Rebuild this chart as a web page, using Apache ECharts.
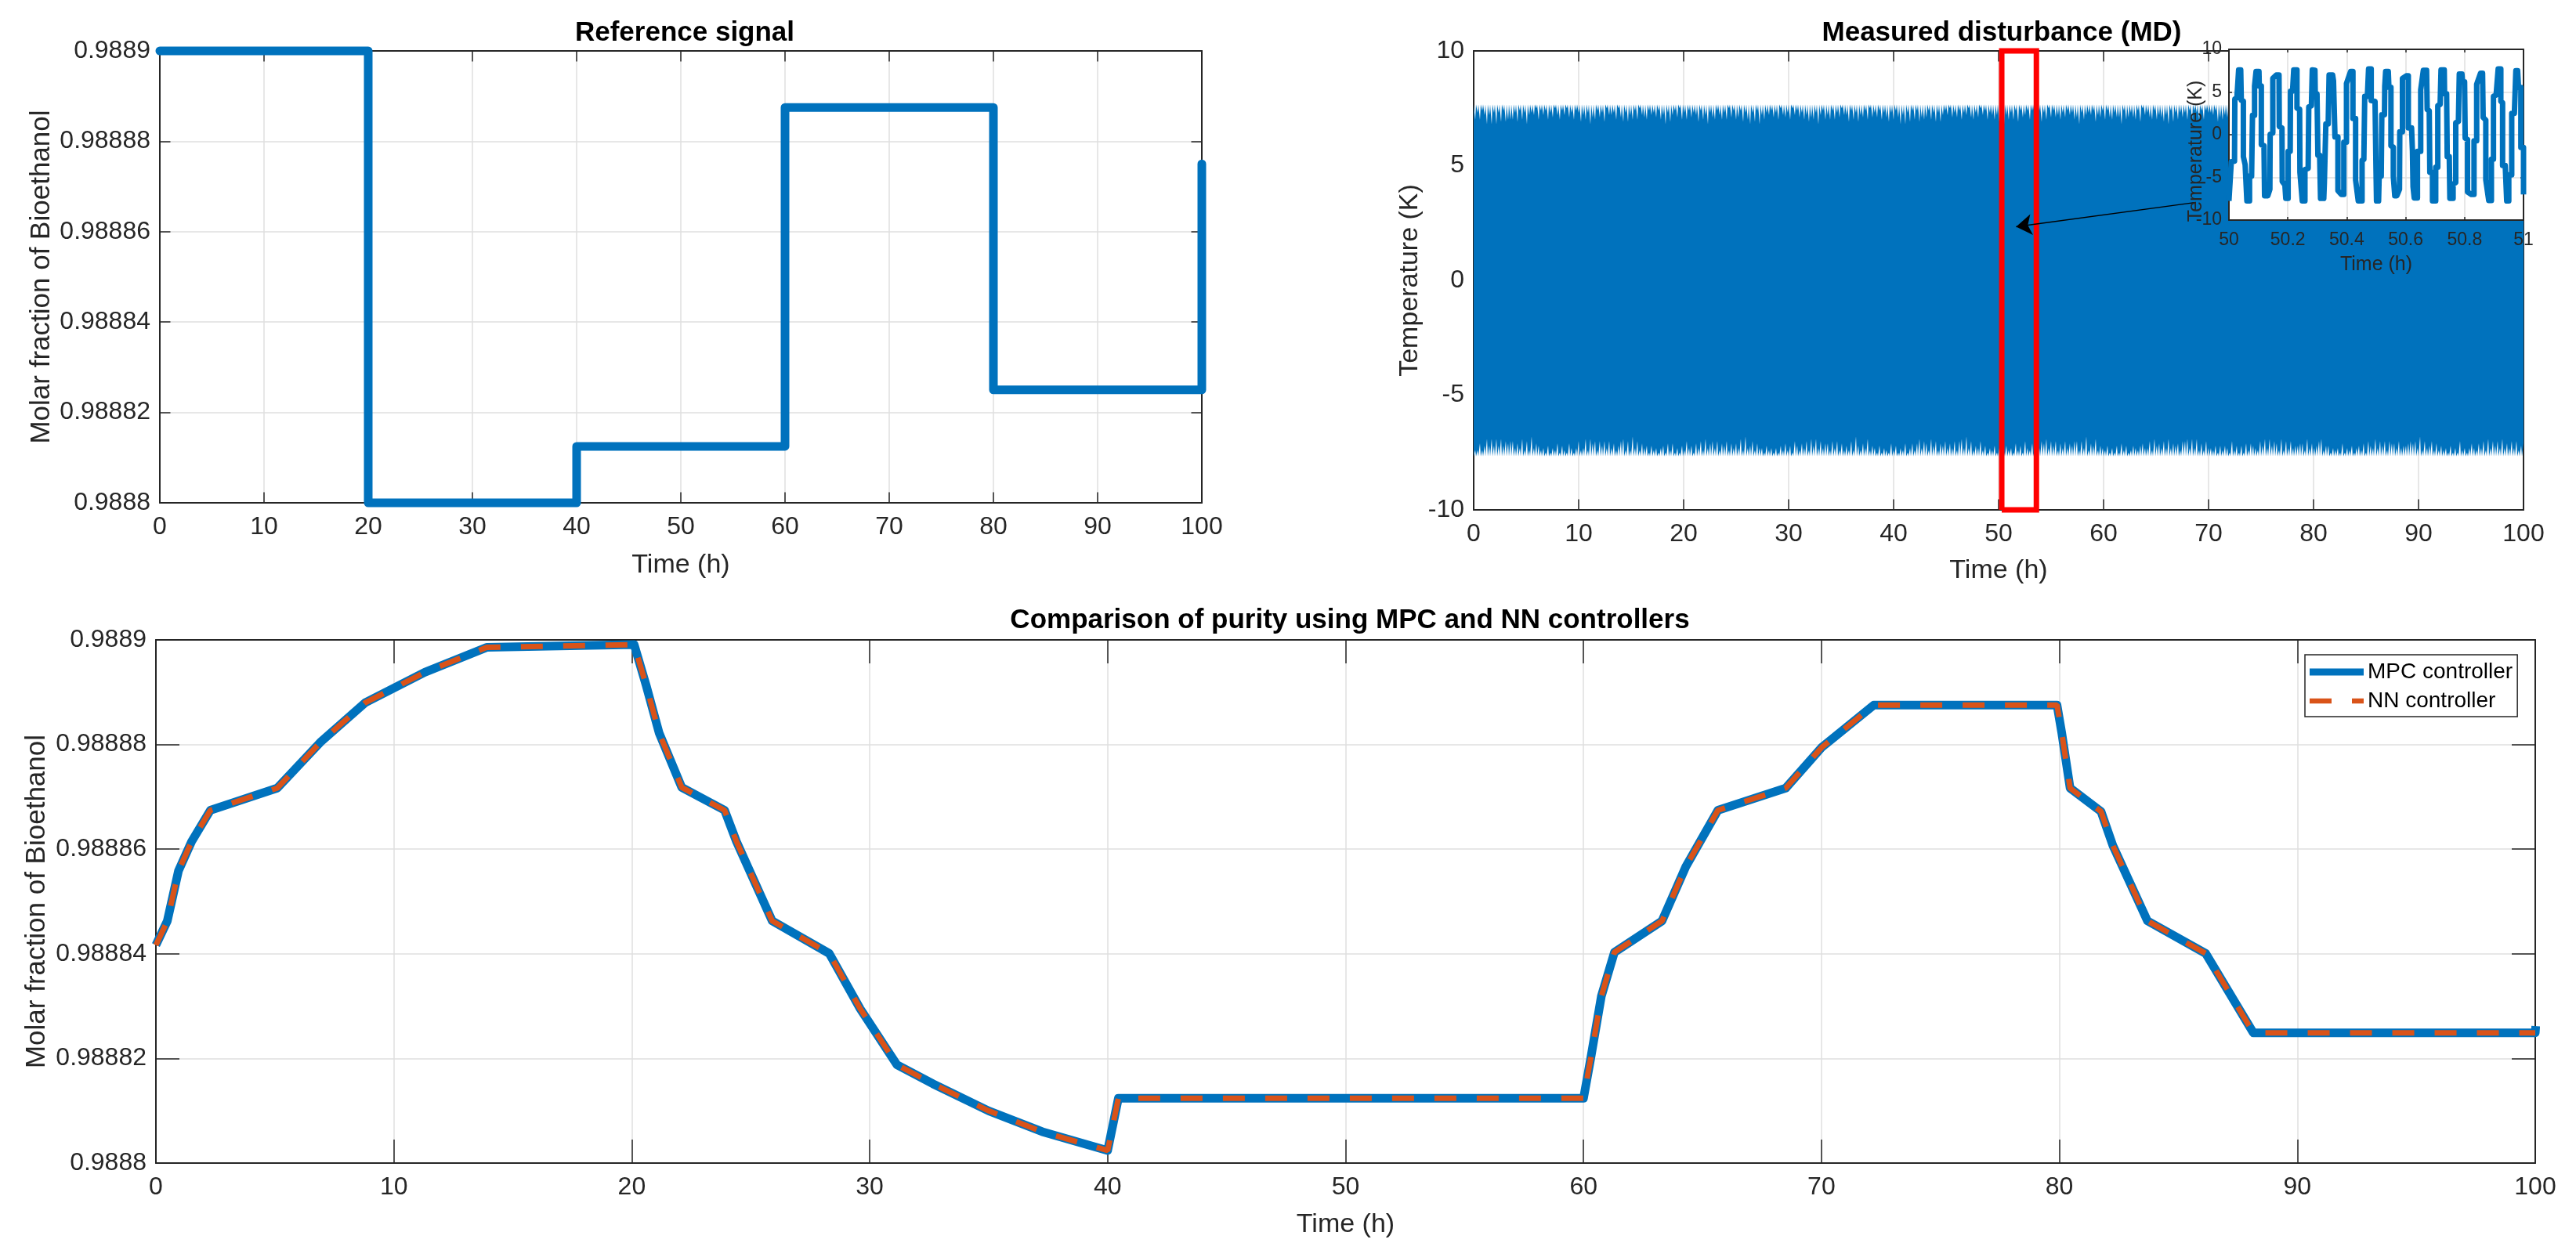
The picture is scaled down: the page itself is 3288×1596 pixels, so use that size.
<!DOCTYPE html>
<html>
<head>
<meta charset="utf-8">
<title>Bioethanol purity</title>
<script src="https://cdn.jsdelivr.net/npm/echarts@6/dist/echarts.min.js"></script>
<style>
  html, body { margin: 0; padding: 0; background: #fff; }
  #main { width: 3288px; height: 1596px; }
</style>
</head>
<body>
<div id="main"></div>
<script>
// reference signal, top left
let refTime = [0, 20, 20, 40, 40, 60, 60, 80, 80, 100, 100];
let refPurity = [0.9889, 0.9889, 0.9888, 0.9888, 0.9888125, 0.9888125, 0.9888875, 0.9888875, 0.988825, 0.988825, 0.988875];

// comparison plot, bottom
let purityTime = [0, 0.48, 0.95, 1.5, 2.29, 5.1, 6.95, 8.8, 11.3, 13.9, 16.5, 20.1, 20.6, 21.15, 22.1, 23.9, 24.4, 25.9, 28.3, 29.6, 31.15, 32.65, 35, 37.25, 40, 40.45, 60, 60.3, 60.75, 61.3, 63.3, 64.3, 65.65, 68.5, 70, 72.2, 79.9, 80.1, 80.45, 81.75, 82.25, 83.7, 86.15, 88.15, 100, 100.02];
let mpcPurity = [0.98884166, 0.98884629, 0.98885587, 0.98886145, 0.98886744, 0.98887167, 0.9888806, 0.988888, 0.98889380, 0.98889856, 0.9888988, 0.9888991, 0.98889138, 0.9888822, 0.9888718, 0.98886744, 0.98886145, 0.98884629, 0.98884006, 0.9888295, 0.98881876, 0.98881516, 0.98880998, 0.98880599, 0.9888024, 0.98881237, 0.98881237, 0.98881995, 0.9888319, 0.9888403, 0.98884629, 0.98885667, 0.98886744, 0.98887167, 0.9888794, 0.98888755, 0.98888755, 0.9888822, 0.98887167, 0.9888672, 0.98886066, 0.98884629, 0.98884006, 0.9888249, 0.9888249, 0.98882617];
let nnPurity = [0.98884166, 0.98884629, 0.98885587, 0.98886145, 0.98886744, 0.98887167, 0.9888806, 0.988888, 0.98889380, 0.98889856, 0.9888988, 0.9888991, 0.98889138, 0.9888822, 0.9888718, 0.98886744, 0.98886145, 0.98884629, 0.98884006, 0.9888295, 0.98881876, 0.98881516, 0.98880998, 0.98880599, 0.9888024, 0.98881237, 0.98881237, 0.98881995, 0.9888319, 0.9888403, 0.98884629, 0.98885667, 0.98886744, 0.98887167, 0.9888794, 0.98888755, 0.98888755, 0.9888822, 0.98887167, 0.9888672, 0.98886066, 0.98884629, 0.98884006, 0.9888249, 0.9888249];

// measured disturbance: the trace is so dense that only its two fringes can be read
let mdStep = 3 / 13.4;  // hours between slivers on the fringe
let mdUpperPeak = 7.67;
let mdLowerPeak = -7.67;
let mdUpperNotch = [
  7.0,7.3,7.0,7.4,7.2,6.8,7.2,6.8,7.3,6.8,7.3,6.9,7.4,6.9,7.0,7.0,
  7.0,7.3,6.9,7.4,7.0,7.3,6.8,7.2,7.3,7.2,7.5,7.0,7.4,7.2,7.4,7.0,
  7.3,7.1,7.5,7.2,7.0,7.4,7.2,7.5,7.1,7.3,7.0,7.4,7.3,6.9,7.2,7.0,
  7.3,6.8,7.1,7.0,7.4,7.1,7.3,6.9,7.5,7.2,7.2,7.3,7.0,7.5,7.1,6.9,
  7.3,6.9,7.2,7.0,7.4,7.0,7.5,7.2,7.1,7.0,7.4,7.2,7.3,7.1,7.4,7.0,
  7.2,6.8,7.3,6.9,7.2,7.4,7.1,7.5,7.0,7.3,7.0,7.4,7.1,7.3,7.2,6.9,
  7.4,7.0,7.2,6.8,7.3,7.1,7.0,7.4,7.2,7.0,7.3,7.0,7.5,7.1,7.4,7.0,
  7.1,7.4,6.9,7.3,7.0,6.8,7.3,6.9,7.4,6.8,7.2,7.0,7.3,7.2,7.4,7.1,
  7.3,7.0,7.5,7.2,7.1,7.3,7.0,7.5,7.2,7.4,7.1,7.3,7.0,7.2,6.9,7.1,
  7.0,7.3,6.8,7.2,7.4,7.0,7.2,7.0,7.4,7.0,7.3,7.1,7.5,7.2,7.2,6.9,
  7.4,7.0,7.3,6.9,7.2,7.1,7.4,7.0,7.5,7.1,7.3,7.1,7.4,7.0,7.3,7.1,
  6.9,7.3,7.0,7.4,7.1,6.8,7.2,6.8,7.3,6.9,7.4,7.0,7.4,6.9,7.1,7.0,
  7.1,7.4,7.0,7.3,6.9,7.3,6.9,7.2,7.4,7.2,7.5,7.1,7.3,7.1,7.4,7.0,
  7.3,7.2,7.5,7.1,7.0,7.3,7.1,7.5,7.2,7.4,7.0,7.3,7.2,7.0,7.2,6.9,
  7.2,6.8,7.2,7.0,7.3,7.0,7.4,6.9,7.4,7.1,7.2,7.4,7.0,7.4,7.2,6.9,
  7.4,6.9,7.3,7.0,7.5,7.1,7.4,7.1,7.2,7.0,7.3,7.1,7.4,7.2,7.3,7.0,
  7.1,6.8,7.3,7.0,7.2,7.3,7.2,7.4,6.9,7.2,7.1,7.4,7.0,7.4,7.1,7.0,
  7.3,7.1,7.1,6.8,7.4,7.0,7.1,7.3,7.1,7.0,7.4,6.9,7.5,7.2,7.3,7.1,
  7.0,7.4,7.0,7.2,7.1,6.9,7.2,6.8,7.4,6.9,7.3,7.0,7.3,7.1,7.3,7.0,
  7.4,7.0,7.4,7.3,7.0,7.4,7.0,7.4,7.3,7.3,7.2,7.4,6.9,7.1,7.0,7.2,
  7.1,7.2,6.9,7.3,7.4,7.1,7.3,6.9,7.3,7.1,7.4,7.0,7.5,7.3,7.1,7.0,
  7.3,7.0,7.2,6.8,7.3,7.2,7.5,7.1,7.0,7.1,7.3,7.2,7.4,7.0,7.4,7.1,
  7.0,7.4,6.9,7.2,7.1,6.8,7.3,6.9,7.4,6.9,7.1,7.1,7.3,7.2,7.3,7.0,
  7.2,7.3,7.0,7.4,7.0,7.2,6.9,7.3,7.2,7.3,7.4,7.0,7.3,7.1,7.5,6.9,
  7.4,7.2,7.4,7.1,7.1,7.4,7.1,7.4,7.0,7.4,7.1,7.2,7.0,7.3,6.9,7.2,
  7.0,7.2,6.8,7.3,7.3,6.9,7.3,7.1,7.3,7.0,7.4,7.0,7.4,7.2,7.1,7.0,
  7.3,6.9,7.3,7.0,7.4,7.1,7.3,7.2,7.1,7.1,7.3,7.0,7.5,7.0,7.4,7.1,
  7.1,6.8,7.2,6.9,7.3,7.2,7.1,7.4,7.0,7.2,7.0,7.3,7.2,7.4,7.1,7.0
];
let mdLowerNotch = [
  -7.4,-7.4,-7.1,-7.4,-7.2,-6.9,-7.2,-6.9,-7.2,-6.9,-7.2,-6.9,-7.2,-7.0,-7.1,-7.0,
  -7.0,-7.3,-7.1,-7.3,-6.9,-7.4,-7.0,-7.4,-6.8,-7.3,-7.1,-7.2,-7.4,-7.3,-7.5,-7.2,
  -7.5,-7.3,-7.4,-7.1,-7.5,-7.2,-7.4,-7.5,-7.1,-7.3,-7.5,-7.3,-7.0,-7.4,-7.3,-6.9,
  -7.4,-6.9,-7.1,-7.0,-7.4,-7.0,-7.2,-7.0,-7.3,-7.0,-7.3,-7.1,-7.4,-7.2,-7.0,-6.9,
  -7.4,-7.0,-7.4,-6.8,-7.3,-7.0,-7.4,-7.1,-7.3,-7.2,-7.5,-7.2,-7.4,-7.3,-7.5,-7.3,
  -7.2,-7.5,-7.1,-7.4,-7.1,-7.5,-7.3,-7.5,-7.2,-7.4,-7.0,-7.3,-7.2,-7.5,-7.1,-7.3,
  -7.0,-7.4,-6.9,-7.3,-7.1,-7.0,-7.3,-7.0,-7.4,-7.1,-7.2,-7.0,-7.4,-7.1,-7.3,-7.1,
  -7.3,-6.9,-7.4,-6.8,-7.3,-7.2,-7.0,-7.4,-7.1,-7.3,-7.3,-7.5,-7.2,-7.4,-7.3,-7.5,
  -7.3,-7.5,-7.2,-7.4,-7.1,-7.4,-7.2,-7.5,-7.0,-7.2,-7.4,-7.1,-7.3,-7.0,-7.4,-6.9,
  -7.2,-6.9,-7.3,-7.0,-7.3,-7.1,-7.1,-7.4,-7.0,-7.3,-7.0,-7.4,-7.1,-7.4,-7.2,-7.4,
  -7.0,-7.4,-6.8,-7.2,-7.4,-7.1,-7.3,-6.9,-7.4,-7.2,-7.3,-7.5,-7.2,-7.5,-7.3,-7.4,
  -7.5,-7.1,-7.4,-7.2,-7.5,-7.3,-7.4,-7.1,-7.5,-7.3,-7.1,-7.4,-7.1,-6.9,-7.3,-7.0,
  -7.1,-7.4,-6.9,-7.2,-7.0,-7.4,-7.1,-7.2,-7.0,-7.3,-7.1,-7.3,-7.0,-7.4,-7.0,-6.9,
  -7.3,-6.8,-7.3,-7.0,-7.4,-7.2,-7.3,-7.0,-7.4,-7.2,-7.5,-7.3,-7.4,-7.2,-7.5,-7.3,
  -7.1,-7.5,-7.2,-7.4,-7.3,-7.5,-7.1,-7.4,-7.2,-7.5,-7.0,-7.3,-7.4,-7.1,-7.4,-6.9,
  -7.3,-7.0,-7.1,-6.9,-7.3,-7.0,-7.2,-7.0,-7.4,-7.1,-7.3,-7.0,-7.3,-7.1,-7.2,-7.0,
  -7.0,-7.4,-7.0,-7.3,-6.8,-7.4,-7.1,-7.2,-6.9,-7.4,-7.2,-7.3,-7.4,-7.2,-7.5,-7.3,
  -7.5,-7.2,-7.5,-7.1,-7.4,-7.2,-7.5,-7.4,-7.2,-7.3,-7.4,-7.2,-7.1,-7.3,-7.3,-7.0,
  -7.4,-6.9,-7.2,-7.1,-7.3,-7.0,-7.3,-6.9,-7.3,-7.1,-7.2,-7.1,-7.4,-7.0,-7.0,-6.9,
  -7.3,-6.9,-7.3,-6.9,-7.4,-7.1,-7.4,-7.0,-7.3,-7.3,-7.4,-7.2,-7.5,-7.2,-7.4,-7.2,
  -7.3,-7.5,-7.0,-7.4,-7.2,-7.5,-7.2,-7.5,-7.1,-7.4,-7.1,-7.2,-7.3,-7.4,-7.0,-7.2,
  -6.9,-7.3,-6.9,-7.2,-7.0,-7.1,-7.4,-6.9,-7.4,-7.0,-7.3,-7.0,-7.3,-7.2,-7.2,-7.1,
  -7.1,-7.4,-6.9,-7.3,-7.1,-7.3,-7.2,-7.0,-6.9,-7.4,-7.2,-7.2,-7.5,-7.3,-7.4,-7.3,
  -7.5,-7.1,-7.5,-7.3,-7.4,-7.2,-7.5,-7.3,-7.2,-7.4,-7.1,-7.5,-7.0,-7.2,-7.3,-6.9,
  -7.3,-7.0,-7.2,-7.0,-7.4,-7.0,-7.1,-7.1,-7.3,-7.0,-7.3,-7.2,-7.2,-7.1,-7.0,-7.1,
  -7.0,-7.3,-6.8,-7.4,-7.0,-7.3,-7.2,-7.0,-7.4,-7.1,-7.4,-7.2,-7.4,-7.3,-7.5,-7.2,
  -7.5,-7.3,-7.5,-7.0,-7.4,-7.3,-7.5,-7.3,-7.1,-7.3,-7.4,-7.1,-7.3,-7.0,-7.4,-6.9,
  -7.3,-7.0,-7.2,-7.0,-7.3,-6.9,-7.3,-7.1,-7.3,-7.0,-7.3,-7.0,-7.4,-7.2,-7.1,-7.0
];

// the red box around the zoomed part and the arrow that goes to the inset
let boxTime = [50.3, 50.3, 53.6, 53.6, 50.3];
let boxTemp = [-10, 10, 10, -10, -10];
let arrowFrom = [68.8, 3.4];
let arrowTo = [51.67, 2.34];

// inset, one hour of the disturbance: [time, temperature]
let insetSamples = [
  [50.000,-7.76],[50.008,-3.17],[50.019,-3.1],[50.020,4.18],[50.027,4.3],[50.033,7.6],[50.040,7.6],[50.042,4.03],[50.049,3.94],[50.049,-2.56],[50.055,-3.5],[50.059,-3.5],[50.061,-7.76],[50.070,-7.76],[50.070,-4.85],[50.077,-4.85],
  [50.080,2.28],[50.087,2.28],[50.087,5.7],[50.092,7.4],[50.102,7.4],[50.103,5.7],[50.110,5.7],[50.110,-1.18],[50.119,-1.27],[50.121,-7.15],[50.132,-7.15],[50.139,-6.4],[50.140,0.05],[50.149,0.2],[50.149,6.6],[50.161,7.0],
  [50.170,7.0],[50.171,0.96],[50.180,0.8],[50.181,-5.47],[50.190,-5.9],[50.193,-7.46],[50.201,-7.46],[50.201,-1.95],[50.208,-1.95],[50.209,5.1],[50.216,5.1],[50.220,7.6],[50.231,7.6],[50.231,3.1],[50.240,3.0],[50.241,-4.4],
  [50.249,-7.76],[50.258,-7.76],[50.258,-4.09],[50.269,-3.94],[50.271,3.26],[50.280,3.4],[50.283,7.6],[50.292,7.55],[50.293,4.85],[50.299,4.8],[50.302,-2.4],[50.308,-2.4],[50.311,-7.46],[50.322,-7.46],[50.324,-5.6],[50.329,1.27],
  [50.337,1.27],[50.340,7.0],[50.352,7.0],[50.355,6.3],[50.360,-0.26],[50.370,-0.26],[50.370,-6.54],[50.382,-7.0],[50.390,-7.0],[50.390,-0.87],[50.399,-0.87],[50.399,6.0],[50.413,7.4],[50.421,7.4],[50.421,1.9],[50.430,1.9],
  [50.430,-5.3],[50.439,-7.76],[50.452,-7.76],[50.452,-3.0],[50.458,-2.9],[50.461,4.5],[50.470,4.5],[50.474,7.7],[50.483,7.7],[50.483,4.0],[50.496,3.9],[50.499,-3.5],[50.501,-7.76],[50.508,-7.76],[50.510,-4.85],[50.517,-4.85],
  [50.519,2.34],[50.528,2.34],[50.529,5.7],[50.532,7.4],[50.541,7.4],[50.543,5.56],[50.550,5.56],[50.550,-1.3],[50.558,-1.45],[50.558,-4.85],[50.563,-7.15],[50.570,-7.15],[50.579,-6.4],[50.580,0.35],[50.589,0.35],[50.589,6.6],
  [50.602,6.9],[50.609,6.9],[50.609,0.8],[50.620,0.8],[50.623,-1.94],[50.625,-6.1],[50.629,-7.4],[50.640,-7.4],[50.640,-1.94],[50.651,-1.94],[50.651,5.25],[50.660,7.55],[50.671,7.55],[50.673,2.96],[50.680,2.8],[50.682,-4.4],
  [50.691,-4.4],[50.691,-7.76],[50.702,-7.76],[50.702,-3.8],[50.709,-3.8],[50.709,3.4],[50.717,3.55],[50.720,7.6],[50.731,7.6],[50.732,4.8],[50.739,4.8],[50.741,-2.56],[50.748,-2.56],[50.750,-7.46],[50.761,-7.46],[50.761,-5.8],
  [50.770,-5.6],[50.770,1.4],[50.779,1.55],[50.782,7.1],[50.791,7.1],[50.793,6.2],[50.800,6.2],[50.802,-0.4],[50.810,-0.55],[50.810,-6.7],[50.823,-7.0],[50.832,-7.0],[50.832,-0.7],[50.841,-0.7],[50.841,5.9],[50.854,7.2],
  [50.861,7.2],[50.863,2.03],[50.872,1.7],[50.872,-5.3],[50.882,-7.7],[50.891,-7.7],[50.891,-2.86],[50.898,-2.86],[50.898,4.5],[50.907,4.65],[50.914,7.7],[50.923,7.7],[50.923,3.9],[50.929,3.75],[50.929,-3.6],[50.938,-3.6],
  [50.943,-7.76],[50.950,-7.76],[50.950,-4.7],[50.960,-4.7],[50.960,2.5],[50.969,2.5],[50.974,7.5],[50.980,7.5],[50.983,5.56],[50.991,5.56],[50.991,-1.5],[51.000,-1.5],[51.000,-7.0]
];

let titles = ['Reference signal', 'Measured disturbance (MD)', 'Comparison of purity using MPC and NN controllers'];
let timeName = 'Time (h)';
let purityName = 'Molar fraction of Bioethanol';
let tempName = 'Temperature (K)';

let blue = '#0072BD';
let orange = '#D95319';
let axisColor = '#262626';
let gridColor = '#DFDFDF';
let fontFamily = '"Liberation Sans", Arial, sans-serif';

// line legend icons always get a marker, so draw the solid and dashed keys as paths
// the zero length segments at the corners keep both paths 69x20
let solidKey = 'path://M0 0L0 0M0 5.5H69V14.5H0ZM69 20L69 20';
let dashedKey = 'path://M0 0L0 0M0 6.7H28V13.2H0ZM54 6.7H69V13.2H54ZM69 20L69 20';

function purityLabel(v) {
    return v.toFixed(5).replace(/0+$/, '');
}

// the axis that carries the labels and the grid lines
function mainAxis(gridIndex, position, min, max, interval, name, gap, font, nameFont, tick, margin, extra) {
    return Object.assign({
        type: 'value', gridIndex, position, min, max, interval, name,
        nameLocation: 'middle', nameGap: gap, nameMoveOverlap: false,
        nameTextStyle: { color: axisColor, fontSize: nameFont, fontFamily },
        axisLine: { show: true, onZero: false, lineStyle: { color: axisColor, width: 2 } },
        axisTick: { show: true, inside: true, length: tick, lineStyle: { color: axisColor, width: 1.5 } },
        axisLabel: { show: true, color: axisColor, fontSize: font, fontFamily, margin },
        splitLine: { show: true, lineStyle: { color: gridColor, width: 1.5 } }
    }, extra || {});
}

// box side across from the main axis, only line and ticks
function mirrorAxis(gridIndex, position, min, max, interval, tick, extra) {
    return Object.assign({
        type: 'value', gridIndex, position, min, max, interval,
        axisLine: { show: true, onZero: false, lineStyle: { color: axisColor, width: 2 } },
        axisTick: { show: true, inside: true, length: tick, lineStyle: { color: axisColor, width: 1.5 } },
        axisLabel: { show: false },
        splitLine: { show: false }
    }, extra || {});
}

function zip(xs, ys) {
    let out = [];
    for (let i = 0; i < ys.length; i++) {
        out.push([xs[i], ys[i]]);
    }
    return out;
}

// fringe of the band: peak, then a narrow notch for the last third of each step
function fringe(peak, notches) {
    let out = [];
    for (let i = 0; i < notches.length; i++) {
        out.push([i * mdStep, peak]);
        out.push([(i + 2 / 3) * mdStep, notches[i]]);
    }
    return out;
}

let inset = { zlevel: 1 };
let chart = echarts.init(document.getElementById('main'));

let option = {
    animation: false,
    backgroundColor: '#fff',
    title: [
        { text: titles[0], left: 869, top: 20, textAlign: 'center', textStyle: { color: '#000', fontSize: 35, fontWeight: 'bold', fontFamily } },
        { text: titles[1], left: 2550, top: 20, textAlign: 'center', textStyle: { color: '#000', fontSize: 35, fontWeight: 'bold', fontFamily } },
        { text: titles[2], left: 1718, top: 770, textAlign: 'center', textStyle: { color: '#000', fontSize: 35, fontWeight: 'bold', fontFamily } }
    ],
    legend: {
        left: 2942, top: 836,
        orient: 'vertical',
        data: [
            { name: 'MPC controller', icon: solidKey },
            { name: 'NN controller', icon: dashedKey }
        ],
        itemWidth: 69, itemHeight: 20, itemGap: 9,
        padding: [8, 6, 6, 6],
        backgroundColor: '#fff',
        borderColor: axisColor, borderWidth: 1.5, borderRadius: 0,
        itemStyle: { borderWidth: 0 },
        textStyle: { color: '#000', fontSize: 28, fontFamily }
    },
    grid: [
        { left: 204, top: 65, width: 1330, height: 577 },
        { left: 1881, top: 65, width: 1340, height: 586 },
        { left: 2845, top: 63, width: 376, height: 218, show: true, backgroundColor: '#fff', borderWidth: 0, zlevel: 1 },
        { left: 199, top: 817, width: 3037, height: 668 }
    ],
    xAxis: [
        mainAxis(0, 'bottom', 0, 100, 10, timeName, 63, 32, 34, 13.5, 15),
        mirrorAxis(0, 'top', 0, 100, 10, 13.5),
        mainAxis(1, 'bottom', 0, 100, 10, timeName, 61, 32, 34, 13.5, 15),
        mirrorAxis(1, 'top', 0, 100, 10, 13.5),
        mainAxis(2, 'bottom', 50, 51, 0.2, timeName, 45, 23, 25, 4, 14, inset),
        mirrorAxis(2, 'top', 50, 51, 0.2, 4, inset),
        mainAxis(3, 'bottom', 0, 100, 10, timeName, 62, 32, 34, 30, 15),
        mirrorAxis(3, 'top', 0, 100, 10, 30)
    ],
    yAxis: [
        mainAxis(0, 'left', 0.9888, 0.9889, 0.00002, purityName, 133, 32, 35, 13.5, 12, { axisLabel: { color: axisColor, fontSize: 32, fontFamily, margin: 12, formatter: purityLabel } }),
        mirrorAxis(0, 'right', 0.9888, 0.9889, 0.00002, 13.5),
        mainAxis(1, 'left', -10, 10, 5, tempName, 64, 32, 34, 13.5, 12),
        mirrorAxis(1, 'right', -10, 10, 5, 13.5),
        mainAxis(2, 'left', -10, 10, 5, tempName, 29, 23, 25, 4, 9, { zlevel: 1, nameTextStyle: { color: axisColor, fontSize: 25, fontFamily, padding: [0, 42, 0, 0] } }),
        mirrorAxis(2, 'right', -10, 10, 5, 4, inset),
        mainAxis(3, 'left', 0.9888, 0.9889, 0.00002, purityName, 134, 32, 35, 30, 12, { axisLabel: { color: axisColor, fontSize: 32, fontFamily, margin: 12, formatter: purityLabel } }),
        mirrorAxis(3, 'right', 0.9888, 0.9889, 0.00002, 30)
    ],
    series: [
        {
            name: 'Reference', type: 'line', xAxisIndex: 0, yAxisIndex: 0,
            data: zip(refTime, refPurity), symbol: 'none', clip: false,
            lineStyle: { color: blue, width: 11, cap: 'round', join: 'round' }
        },
        {
            name: 'MD upper', type: 'line', xAxisIndex: 2, yAxisIndex: 2,
            data: fringe(mdUpperPeak, mdUpperNotch), step: 'end', symbol: 'none',
            lineStyle: { width: 0 }, itemStyle: { color: blue },
            areaStyle: { color: blue, opacity: 1 },
            markLine: {
                silent: true, symbol: ['none', 'arrow'], symbolSize: 20,
                label: { show: false },
                lineStyle: { color: '#000', width: 1.5, type: 'solid' },
                data: [[{ coord: arrowFrom }, { coord: arrowTo }]]
            }
        },
        {
            name: 'MD lower', type: 'line', xAxisIndex: 2, yAxisIndex: 2,
            data: fringe(mdLowerPeak, mdLowerNotch), step: 'end', symbol: 'none',
            lineStyle: { width: 0 }, itemStyle: { color: blue },
            areaStyle: { color: blue, opacity: 1 }
        },
        {
            name: 'Zoomed part', type: 'line', xAxisIndex: 2, yAxisIndex: 2, z: 3,
            data: zip(boxTime, boxTemp), symbol: 'none', clip: false,
            lineStyle: { color: '#FF0000', width: 7, join: 'miter' }
        },
        {
            name: 'MD inset', type: 'line', xAxisIndex: 4, yAxisIndex: 4, zlevel: 1,
            data: insetSamples, symbol: 'none', clip: false,
            lineStyle: { color: blue, width: 7, join: 'round' }
        },
        {
            name: 'MPC controller', type: 'line', xAxisIndex: 6, yAxisIndex: 6,
            data: zip(purityTime, mpcPurity), symbol: 'none', clip: false,
            itemStyle: { color: blue },
            lineStyle: { color: blue, width: 11, join: 'round' }
        },
        {
            name: 'NN controller', type: 'line', xAxisIndex: 6, yAxisIndex: 6,
            data: zip(purityTime, nnPurity), symbol: 'none', clip: false,
            itemStyle: { color: orange },
            lineStyle: { color: orange, width: 7, type: [28, 26] }
        }
    ]
};

chart.setOption(option);
</script>
</body>
</html>
